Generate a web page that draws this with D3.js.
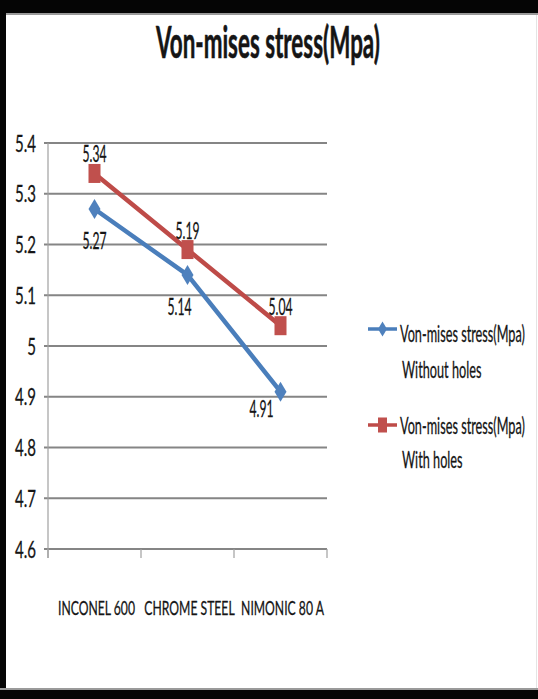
<!DOCTYPE html>
<html>
<head>
<meta charset="utf-8">
<script src="https://cdn.jsdelivr.net/npm/d3@7"></script>
<style>
  html, body { margin: 0; padding: 0; background: #fff; }
  svg { display: block; }
  text { font-family: Lato, "Open Sans", sans-serif; fill: #151515; }
</style>
</head>
<body>
<svg id="chart" width="538" height="699"></svg>
<script>
const categories = ["INCONEL 600", "CHROME STEEL", "NIMONIC 80 A"];
const withoutHoles = [5.27, 5.14, 4.91];
const withHoles = [5.34, 5.19, 5.04];
const yTickValues = [4.6, 4.7, 4.8, 4.9, 5.0, 5.1, 5.2, 5.3, 5.4];
const yTickLabels = ["4.6", "4.7", "4.8", "4.9", "5", "5.1", "5.2", "5.3", "5.4"];
const seriesNames = [["Von-mises stress(Mpa)", "Without holes"], ["Von-mises stress(Mpa)", "With holes"]];
const title = "Von-mises stress(Mpa)";

const svg = d3.select("#chart");
const W = 538, H = 699;

// measuring helper
const meas = svg.append("text").attr("x", -1000).attr("y", -1000);
function natural(str, size, weight) {
  meas.attr("font-size", size).attr("font-weight", weight || "normal").text(str);
  return meas.node().getComputedTextLength();
}
function scaleFor(ref, target, size, weight) { return target / natural(ref, size, weight); }

function drawText(parent, x, y, str, o) {
  const g = parent.append("g").attr("transform", `translate(${x},${y}) scale(${o.scale},1)`);
  g.append("text")
    .attr("font-size", o.size)
    .attr("font-weight", o.weight || "normal")
    .attr("text-anchor", o.anchor || "start")
    .attr("stroke", o.stroke ? "#151515" : null)
    .attr("stroke-width", o.stroke || null)
    .text(str);
  return g;
}

// frame
svg.append("rect").attr("x", 0).attr("y", 0).attr("width", W).attr("height", H).attr("fill", "#fff");
svg.append("rect").attr("x", 0).attr("y", 0).attr("width", W).attr("height", 13).attr("fill", "#050505");
svg.append("rect").attr("x", 0).attr("y", 13).attr("width", W).attr("height", 2).attr("fill", "#9a9a9a");
svg.append("rect").attr("x", 0).attr("y", 0).attr("width", 6).attr("height", H).attr("fill", "#050505");
svg.append("rect").attr("x", 0).attr("y", 688).attr("width", W).attr("height", 2).attr("fill", "#9a9a9a");
svg.append("rect").attr("x", 0).attr("y", 690).attr("width", W).attr("height", 9).attr("fill", "#050505");
svg.append("rect").attr("x", 536).attr("y", 15).attr("width", 1).attr("height", 673).attr("fill", "#e4e4e4");

// scales
const x = d3.scaleBand().domain(categories).range([48, 327]).paddingInner(0).paddingOuter(0);
const y = d3.scaleLinear().domain([4.6, 5.4]).range([549, 143]);
const cx = c => x(c) + x.bandwidth() / 2;

// title
const tSize = 44;
drawText(svg, 268, 58, title, { size: tSize, weight: "bold", anchor: "middle", scale: scaleFor(title, 224, tSize, "bold"), stroke: 0.6 });

// gridlines
const grid = svg.append("g");
grid.selectAll("line").data(yTickValues).join("line")
  .attr("x1", 44).attr("x2", 327)
  .attr("y1", d => y(d)).attr("y2", d => y(d))
  .attr("stroke", "#858585").attr("stroke-width", 1.8);

// y axis line
svg.append("line").attr("x1", 48).attr("x2", 48).attr("y1", y(5.4)).attr("y2", y(4.6) + 9)
  .attr("stroke", "#a0a0a0").attr("stroke-width", 1.2);

// x axis ticks
const bounds = categories.map(c => x(c)).concat([x.range()[1]]);
svg.append("g").selectAll("line").data(bounds).join("line")
  .attr("x1", d => d).attr("x2", d => d)
  .attr("y1", y(4.6)).attr("y2", y(4.6) + 9)
  .attr("stroke", "#a0a0a0").attr("stroke-width", 1.2);

// y tick labels
const ySize = 24;
const ySc = scaleFor("5.4", 21, ySize);
const yl = svg.append("g");
yTickValues.forEach((v, i) => {
  drawText(yl, 36, y(v) + 8.5, yTickLabels[i], { size: ySize, anchor: "end", scale: ySc, stroke: 0.3 });
});

// x labels
const xSize = 19.5;
const xSc = scaleFor("INCONEL 600", 77, xSize);
const xl = svg.append("g");
categories.forEach(c => {
  drawText(xl, cx(c) + 2, 615, c, { size: xSize, anchor: "middle", scale: xSc, stroke: 0.3 });
});

// series
const blue = "#4a7ebb", blueM = "#4f81bd";
const red = "#be4b48", redM = "#c0504d";
const line = d3.line().x((d, i) => cx(categories[i])).y(d => y(d));

svg.append("path").datum(withoutHoles).attr("d", line)
  .attr("fill", "none").attr("stroke", blue).attr("stroke-width", 4.5).attr("stroke-linejoin", "round");
svg.append("path").datum(withHoles).attr("d", line)
  .attr("fill", "none").attr("stroke", red).attr("stroke-width", 4.5).attr("stroke-linejoin", "round");

function diamond(w, h) { return `M0,${-h/2}L${w/2},0L0,${h/2}L${-w/2},0Z`; }

svg.append("g").selectAll("path").data(withoutHoles).join("path")
  .attr("transform", (d, i) => `translate(${cx(categories[i])},${y(d)})`)
  .attr("d", diamond(12, 20)).attr("fill", blueM);
svg.append("g").selectAll("rect").data(withHoles).join("rect")
  .attr("x", (d, i) => cx(categories[i]) - 6).attr("y", d => y(d) - 9.5)
  .attr("width", 12).attr("height", 19).attr("fill", redM);

// data labels
const dSize = 23.5;
const dSc = scaleFor("5.27", 24, dSize);
const dl = svg.append("g");
withHoles.forEach((v, i) => {
  drawText(dl, cx(categories[i]), y(v) - 11, d3.format(".2f")(v), { size: dSize, anchor: "middle", scale: dSc, stroke: 0.3 });
});
const belowOffsets = [[0, 40], [-8, 40], [-19, 25]];
withoutHoles.forEach((v, i) => {
  drawText(dl, cx(categories[i]) + belowOffsets[i][0], y(v) + belowOffsets[i][1], d3.format(".2f")(v), { size: dSize, anchor: "middle", scale: dSc, stroke: 0.3 });
});

// legend
const lSize = 23;
const lSc = scaleFor(seriesNames[0][0], 125, lSize);
const legend = svg.append("g");
const legendRows = [
  { color: blue, mcolor: blueM, shape: "diamond", ly: 329, t1: 342, t2: 378 },
  { color: red, mcolor: redM, shape: "square", ly: 425, t1: 434, t2: 468 }
];
legendRows.forEach((r, i) => {
  legend.append("line").attr("x1", 368).attr("x2", 397).attr("y1", r.ly).attr("y2", r.ly)
    .attr("stroke", r.color).attr("stroke-width", 3.5);
  if (r.shape === "diamond") {
    legend.append("path").attr("transform", `translate(382.5,${r.ly})`).attr("d", diamond(9, 15)).attr("fill", r.mcolor);
  } else {
    legend.append("rect").attr("x", 378).attr("y", r.ly - 7.5).attr("width", 9).attr("height", 15).attr("fill", r.mcolor);
  }
  drawText(legend, 400, r.t1, seriesNames[i][0], { size: lSize, scale: lSc, stroke: 0.3 });
  drawText(legend, 402, r.t2, seriesNames[i][1], { size: lSize, scale: lSc, stroke: 0.3 });
});

meas.remove();
</script>
</body>
</html>
